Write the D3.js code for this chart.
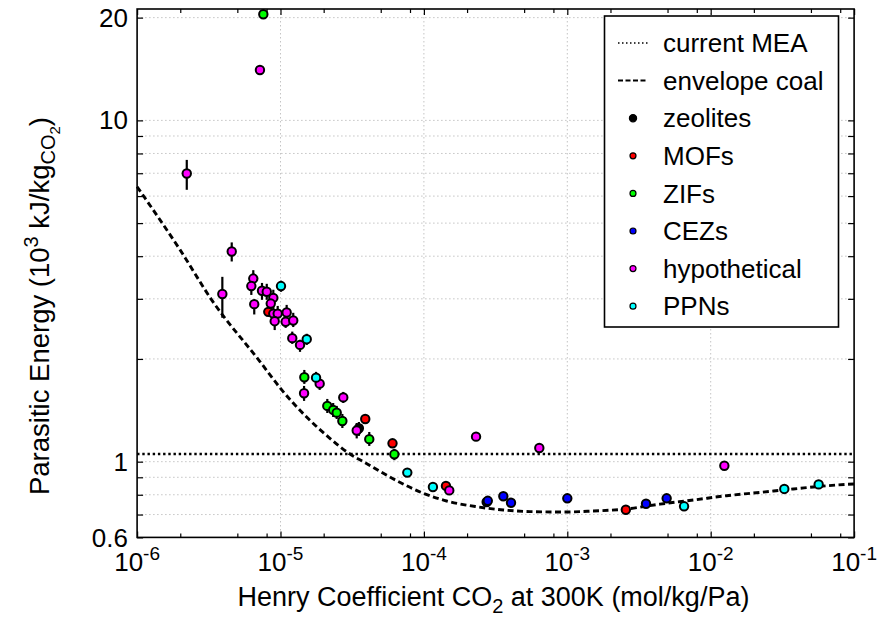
<!DOCTYPE html>
<html><head><meta charset="utf-8">
<script src="https://cdn.jsdelivr.net/npm/d3@7"></script>
<style>
body{margin:0;background:#fff}
svg{display:block}
text{font-family:"Liberation Sans",Arial,Helvetica,sans-serif;fill:#000}
</style>
</head><body>
<svg id="chart" width="878" height="621"></svg>
<script>
// ---------------- DATA ----------------
const xMajorTicks = [1e-6, 1e-5, 1e-4, 1e-3, 1e-2, 1e-1];
const xTickExponents = ["-6", "-5", "-4", "-3", "-2", "-1"];
const xMinorMultipliers = [2, 5, 8];
const yTickValues = [0.6, 0.7, 0.8, 0.9, 1, 2, 3, 4, 5, 6, 7, 8, 9, 10, 20];
const yLabelValues = [0.6, 1, 10, 20];
const yLabelTexts = ["0.6", "1", "10", "20"];

const meaValue = 1.053;

const envelopeH = [1e-6, 1.99e-6, 3.31e-6, 7.19e-6, 1.02e-5, 2.21e-5, 3.05e-5, 3.78e-5, 6.45e-5, 9.9e-5,
  1.44e-4, 2.33e-4, 3.58e-4, 5.5e-4, 9.4e-4, 1.52e-3, 2.6e-3, 4.43e-3, 7.56e-3, 0.0129, 0.0221, 0.0377, 0.0888, 0.1];
const envelopeE = [6.39, 4.18, 2.98, 1.965, 1.623, 1.171, 1.053, 1.0, 0.88, 0.808,
  0.767, 0.738, 0.722, 0.714, 0.712, 0.717, 0.727, 0.751, 0.772, 0.795, 0.813, 0.832, 0.858, 0.86];

// each point: [Henry coefficient, parasitic energy, error low, error high]
const zeolites = [
  [3.52e-5, 1.253, 1.19, 1.307]
];
const mofs = [
  [8.22e-6, 2.748, null, null],
  [3.90e-5, 1.334, null, null],
  [6.04e-5, 1.132, null, null],
  [1.425e-4, 0.849, null, null],
  [2.56e-3, 0.723, null, null]
];
const zifs = [
  [7.59e-6, 20.46, null, null],
  [1.466e-5, 1.768, 1.69, 1.857],
  [2.12e-5, 1.457, 1.389, 1.527],
  [2.33e-5, 1.418, 1.352, 1.486],
  [2.466e-5, 1.392, 1.334, 1.457],
  [2.70e-5, 1.316, 1.255, 1.380],
  [4.16e-5, 1.164, 1.112, 1.222],
  [6.22e-5, 1.051, 1.01, 1.09]
];
const cezs = [
  [2.74e-4, 0.762, null, null],
  [2.79e-4, 0.768, null, null],
  [3.58e-4, 0.792, null, null],
  [4.05e-4, 0.758, null, null],
  [1.0e-3, 0.781, null, null],
  [3.54e-3, 0.753, null, null],
  [4.93e-3, 0.781, null, null]
];
const hypothetical = [
  [7.19e-6, 14.05, null, null],
  [2.22e-6, 6.99, 6.26, 7.66],
  [4.57e-6, 4.13, 3.86, 4.39],
  [3.93e-6, 3.10, 2.64, 3.48],
  [6.46e-6, 3.44, 3.33, 3.64],
  [6.26e-6, 3.27, 3.08, 3.41],
  [6.56e-6, 2.894, 2.70, 2.98],
  [7.43e-6, 3.168, 2.98, 3.34],
  [8.02e-6, 3.146, 2.98, 3.32],
  [8.91e-6, 3.02, 2.86, 3.19],
  [8.55e-6, 2.906, 2.75, 3.06],
  [8.91e-6, 2.716, 2.59, 2.86],
  [9.56e-6, 2.716, 2.59, 2.86],
  [1.104e-5, 2.735, 2.60, 2.88],
  [9.11e-6, 2.58, 2.43, 2.71],
  [1.086e-5, 2.57, 2.466, 2.675],
  [1.227e-5, 2.592, 2.48, 2.73],
  [1.208e-5, 2.301, 2.214, 2.405],
  [1.368e-5, 2.199, 2.098, 2.275],
  [1.876e-5, 1.693, 1.623, 1.76],
  [1.46e-5, 1.587, 1.507, 1.667],
  [2.74e-5, 1.543, 1.486, 1.601],
  [3.40e-5, 1.234, 1.17, 1.298],
  [1.503e-4, 0.824, null, null],
  [2.31e-4, 1.184, null, null],
  [6.38e-4, 1.097, null, null],
  [0.01245, 0.973, null, null]
];
const ppns = [
  [1.008e-5, 3.27, 3.146, 3.39],
  [1.524e-5, 2.285, 2.199, 2.37],
  [1.77e-5, 1.763, 1.701, 1.833],
  [7.66e-5, 0.929, null, null],
  [1.156e-4, 0.843, null, null],
  [6.52e-3, 0.740, null, null],
  [0.0326, 0.832, null, null],
  [0.0566, 0.858, null, null]
];

const seriesNames = ["zeolites", "MOFs", "ZIFs", "CEZs", "hypothetical", "PPNs"];
const seriesColors = ["#000000", "#ff0000", "#00ff00", "#0000ff", "#ff00ff", "#00ffff"];
const seriesData = [zeolites, mofs, zifs, cezs, hypothetical, ppns];

// ---------------- LAYOUT ----------------
const L = 137.1, R = 854.1, T = 9, B = 537.4;
const FS = 26, FT = 27;
const svg = d3.select("#chart");

const x = d3.scaleLog().domain([1e-6, 1e-1]).range([L, R]);
const y = d3.scaleLog().domain([0.6, 21.2]).range([B, T]);

// grid
const grid = svg.append("g");
grid.selectAll("line.gx").data(xMajorTicks.slice(1, -1)).join("line")
  .attr("x1", d => x(d)).attr("x2", d => x(d)).attr("y1", T).attr("y2", B)
  .attr("stroke", "#c4c4c4").attr("stroke-width", 1).attr("stroke-dasharray", "1.5,2.5");
grid.selectAll("line.gy").data(yTickValues.filter(v => v > 0.6)).join("line")
  .attr("x1", L).attr("x2", R).attr("y1", d => y(d)).attr("y2", d => y(d))
  .attr("stroke", "#c4c4c4").attr("stroke-width", 1).attr("stroke-dasharray", "1.5,2.5");

// minor x ticks
const xMinor = [];
xMajorTicks.slice(0, -1).forEach(b => xMinorMultipliers.forEach(m => xMinor.push(b * m)));

function styleAxis(g) {
  g.select(".domain").remove();
  g.selectAll(".tick line").attr("stroke", "#000").attr("stroke-width", 1.2);
  g.selectAll(".tick text").remove();
}
svg.append("g").attr("transform", `translate(0,${B})`)
  .call(d3.axisBottom(x).tickValues(xMajorTicks).tickSize(-6).tickFormat("")).call(styleAxis);
svg.append("g").attr("transform", `translate(0,${B})`)
  .call(d3.axisBottom(x).tickValues(xMinor).tickSize(-4).tickFormat("")).call(styleAxis);
svg.append("g").attr("transform", `translate(0,${T})`)
  .call(d3.axisTop(x).tickValues(xMajorTicks).tickSize(-6).tickFormat("")).call(styleAxis);
svg.append("g").attr("transform", `translate(0,${T})`)
  .call(d3.axisTop(x).tickValues(xMinor).tickSize(-4).tickFormat("")).call(styleAxis);
svg.append("g").attr("transform", `translate(${L},0)`)
  .call(d3.axisLeft(y).tickValues(yTickValues).tickSize(-6).tickFormat("")).call(styleAxis);
svg.append("g").attr("transform", `translate(${R},0)`)
  .call(d3.axisRight(y).tickValues(yTickValues).tickSize(-6).tickFormat("")).call(styleAxis);

// MEA line
svg.append("line").attr("x1", L).attr("x2", R).attr("y1", y(meaValue)).attr("y2", y(meaValue))
  .attr("stroke", "#000").attr("stroke-width", 2.6).attr("stroke-dasharray", "2.4,2.8");

// envelope
const env = envelopeH.map((h, i) => [h, envelopeE[i]]);
svg.append("path").datum(env)
  .attr("d", d3.line().x(d => x(d[0])).y(d => y(d[1])).curve(d3.curveMonotoneX))
  .attr("fill", "none").attr("stroke", "#000").attr("stroke-width", 2.9).attr("stroke-dasharray", "6,3.5");

// points
seriesData.forEach((data, si) => {
  const g = svg.append("g");
  g.selectAll("line").data(data.filter(d => d[2] != null)).join("line")
    .attr("x1", d => x(d[0])).attr("x2", d => x(d[0]))
    .attr("y1", d => y(d[2])).attr("y2", d => y(d[3]))
    .attr("stroke", "#000").attr("stroke-width", 2.2);
});
seriesData.forEach((data, si) => {
  svg.append("g").selectAll("circle").data(data).join("circle")
    .attr("cx", d => x(d[0])).attr("cy", d => y(d[1])).attr("r", 4.2)
    .attr("fill", seriesColors[si]).attr("stroke", "#000").attr("stroke-width", 2);
});

// frame
svg.append("rect").attr("x", L).attr("y", T).attr("width", R - L).attr("height", B - T)
  .attr("fill", "none").attr("stroke", "#000").attr("stroke-width", 1.6);

// tick labels
const xl = svg.append("g");
xMajorTicks.forEach((v, i) => {
  const t = xl.append("text").attr("x", x(v)).attr("y", 571).attr("text-anchor", "middle")
    .attr("font-size", FS);
  t.append("tspan").text("10");
  t.append("tspan").attr("font-size", 19).attr("dy", -11).text(xTickExponents[i]);
});
yLabelValues.forEach((v, i) => {
  svg.append("text").attr("x", 128).attr("y", y(v)).attr("dy", "0.35em")
    .attr("text-anchor", "end").attr("font-size", FS).text(yLabelTexts[i]);
});

// axis titles
const xt = svg.append("text").attr("y", 606).attr("font-size", FT);
xt.append("tspan").text("Henry Coefficient CO");
xt.append("tspan").attr("font-size", 20).attr("dy", 7).text("2");
xt.append("tspan").attr("dy", -7).text(" at 300K (mol/kg/Pa)");
const xtLen = xt.node().getComputedTextLength();
xt.attr("x", 493.5 - xtLen / 2);

const yt = svg.append("text").attr("transform", "translate(49,306) rotate(-90)").attr("font-size", 27.5);
yt.append("tspan").text("Parasitic Energy (10");
yt.append("tspan").attr("font-size", 20).attr("dy", -11).text("3");
yt.append("tspan").attr("dy", 11).text(" kJ/kg");
yt.append("tspan").attr("font-size", 20).attr("dy", 6).text("CO");
yt.append("tspan").attr("font-size", 15).attr("dy", 5).text("2");
yt.append("tspan").attr("dy", -11).text(")");
const ytLen = yt.node().getComputedTextLength();
yt.attr("x", -ytLen / 2);

// legend
const lg = svg.append("g");
lg.append("rect").attr("x", 604.5).attr("y", 16).attr("width", 234).attr("height", 311)
  .attr("fill", "#fff").attr("stroke", "#000").attr("stroke-width", 1.6);
const rowY = i => 43 + i * 37.6;
lg.append("line").attr("x1", 618).attr("x2", 648).attr("y1", rowY(0)).attr("y2", rowY(0))
  .attr("stroke", "#000").attr("stroke-width", 1.5).attr("stroke-dasharray", "1.5,2.5");
lg.append("line").attr("x1", 618).attr("x2", 648).attr("y1", rowY(1)).attr("y2", rowY(1))
  .attr("stroke", "#000").attr("stroke-width", 2).attr("stroke-dasharray", "5,2.5");
const legendLabels = ["current MEA", "envelope coal"].concat(seriesNames);
legendLabels.forEach((s, i) => {
  lg.append("text").attr("x", 663).attr("y", rowY(i)).attr("dy", "0.35em")
    .attr("font-size", FS).text(s);
});
seriesNames.forEach((s, i) => {
  lg.append("circle").attr("cx", 633).attr("cy", rowY(i + 2)).attr("r", i === 0 ? 3.6 : 3)
    .attr("fill", seriesColors[i]).attr("stroke", "#000").attr("stroke-width", 1.2);
});
</script>
</body></html>
